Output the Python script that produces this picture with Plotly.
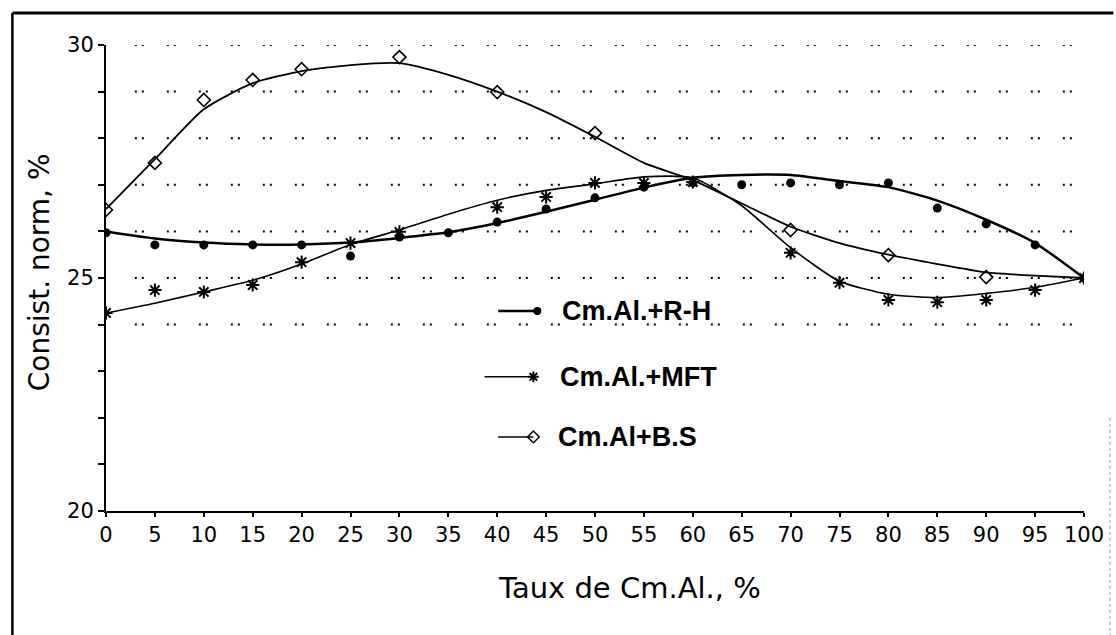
import plotly.graph_objects as go

# ---------------- data ----------------
x_fit = [0, 5, 10, 15, 20, 25, 30, 35, 40, 45, 50, 55, 60, 65, 70, 75, 80, 85, 90, 95, 100]

rh_fit = [26.0, 25.85, 25.76, 25.72, 25.72, 25.76, 25.86, 25.98, 26.18, 26.42, 26.68,
          26.94, 27.15, 27.21, 27.21, 27.08, 26.95, 26.66, 26.25, 25.75, 25.0]
mft_fit = [24.25, 24.46, 24.7, 24.95, 25.3, 25.72, 26.03, 26.37, 26.67, 26.88, 27.02,
           27.17, 27.15, 26.55, 25.65, 24.93, 24.65, 24.58, 24.67, 24.8, 25.0]
bs_fit = [26.48, 27.55, 28.62, 29.18, 29.44, 29.57, 29.61, 29.36, 29.0, 28.56, 28.03,
          27.47, 27.1, 26.6, 26.1, 25.75, 25.5, 25.3, 25.12, 25.05, 25.0]

rh_x = [0, 5, 10, 15, 20, 25, 30, 35, 40, 45, 50, 55, 60, 65, 70, 75, 80, 85, 90, 95, 100]
rh_y = [25.97, 25.71, 25.71, 25.71, 25.71, 25.47, 25.88, 25.97, 26.2, 26.48, 26.72,
        26.95, 27.04, 27.0, 27.04, 27.0, 27.04, 26.5, 26.16, 25.71, 25.0]

mft_x = [0, 5, 10, 15, 20, 25, 30, 40, 45, 50, 55, 60, 70, 75, 80, 85, 90, 95, 100]
mft_y = [24.25, 24.74, 24.7, 24.85, 25.34, 25.75, 25.99, 26.52, 26.74, 27.04, 27.04,
         27.06, 25.54, 24.9, 24.53, 24.48, 24.53, 24.74, 25.0]

bs_x = [0, 5, 10, 15, 20, 30, 40, 50, 70, 80, 90]
bs_y = [26.46, 27.47, 28.82, 29.25, 29.48, 29.74, 28.99, 28.11, 26.03, 25.49, 25.02]

series_names = ["Cm.Al.+R-H", "Cm.Al.+MFT", "Cm.Al+B.S"]
x_ticks = [0, 5, 10, 15, 20, 25, 30, 35, 40, 45, 50, 55, 60, 65, 70, 75, 80, 85, 90, 95, 100]
y_ticks = [20, 25, 30]
grid_y = [24, 25, 26, 27, 28, 29, 30]

x_title = "Taux de Cm.Al., %"
y_title = "Consist. norm, %"

# ---------------- figure ----------------
FONT = "DejaVu Sans, sans-serif"
BOLD = "Liberation Sans, Arial, sans-serif"
fig = go.Figure()

# fitted curves
fig.add_trace(go.Scatter(x=x_fit, y=rh_fit, mode="lines", line=dict(color="black", width=2.5, shape="spline", smoothing=0.6), showlegend=False))
fig.add_trace(go.Scatter(x=x_fit, y=mft_fit, mode="lines", line=dict(color="black", width=1.6, shape="spline", smoothing=0.6), showlegend=False))
fig.add_trace(go.Scatter(x=x_fit, y=bs_fit, mode="lines", line=dict(color="black", width=1.8, shape="spline", smoothing=0.6), showlegend=False))

# markers
fig.add_trace(go.Scatter(x=rh_x, y=rh_y, mode="markers", marker=dict(symbol="circle", size=9, color="black"), showlegend=False))
fig.add_trace(go.Scatter(x=mft_x, y=mft_y, mode="markers", marker=dict(symbol="asterisk-open", size=11, color="black", line=dict(width=2, color="black")), showlegend=False))
fig.add_trace(go.Scatter(x=bs_x, y=bs_y, mode="markers", marker=dict(symbol="diamond-open", size=10, color="black", line=dict(width=1.6, color="black")), showlegend=False))

# custom legend samples (overlay axes in plot-fraction units)
leg_rows = [
    dict(x0=0.401, x1=0.441, y=0.429, sym="circle", size=8, lw=2.5, mlw=0, tx=0.464),
    dict(x0=0.387, x1=0.437, y=0.288, sym="asterisk-open", size=9, lw=1.5, mlw=2, tx=0.462),
    dict(x0=0.401, x1=0.437, y=0.159, sym="diamond-open", size=9, lw=1.5, mlw=1.5, tx=0.460),
]
for name, r in zip(series_names, leg_rows):
    fig.add_trace(go.Scatter(x=[r["x0"], r["x1"]], y=[r["y"], r["y"]], xaxis="x2", yaxis="y2",
                             mode="lines", line=dict(color="black", width=r["lw"]), showlegend=False))
    fig.add_trace(go.Scatter(x=[r["x1"]], y=[r["y"]], xaxis="x2", yaxis="y2", mode="markers",
                             marker=dict(symbol=r["sym"], size=r["size"], color="black",
                                         line=dict(width=r["mlw"], color="black")), showlegend=False))
    fig.add_annotation(x=r["tx"], y=r["y"], xref="x2", yref="y2", text="<b>%s</b>" % name,
                       showarrow=False, xanchor="left", yanchor="middle",
                       font=dict(family=BOLD, size=27, color="black"))

# dotted grid (pairs of dots)
for gy in grid_y:
    fig.add_shape(type="line", xref="x", yref="y", x0=2.95, x1=100, y0=gy, y1=gy,
                  line=dict(color="black", width=2, dash="2px,5px,2px,23px"), layer="below")

# outer frame
fig.add_shape(type="line", xref="paper", yref="paper", x0=-0.0957, x1=-0.0957, y0=1.0687, y1=-0.27,
              line=dict(color="black", width=2.5))
fig.add_shape(type="line", xref="paper", yref="paper", x0=-0.0957, x1=1.03, y0=1.0687, y1=1.0687,
              line=dict(color="black", width=3))
fig.add_shape(type="line", xref="paper", yref="paper", x0=1.0265, x1=1.0265, y0=0.2, y1=-0.27,
              line=dict(color="#999999", width=1, dash="dot"))

# axis titles
fig.add_annotation(x=0.535, y=-0.165, xref="paper", yref="paper", text=x_title, showarrow=False,
                   xanchor="center", yanchor="middle", font=dict(family=FONT, size=29, color="black"))
fig.add_annotation(x=-0.0672, y=0.513, xref="paper", yref="paper", text=y_title, showarrow=False,
                   textangle=-90, xanchor="center", yanchor="middle", font=dict(family=FONT, size=28, color="black"))

fig.update_layout(
    width=1116, height=635,
    margin=dict(l=106, r=28, t=45, b=124),
    paper_bgcolor="white", plot_bgcolor="white",
    showlegend=False,
    xaxis=dict(range=[0, 100], tickvals=x_ticks, ticktext=[str(v) for v in x_ticks],
               showgrid=False, zeroline=False, showline=True, linecolor="black", linewidth=2,
               ticks="outside", ticklen=4, tickwidth=2, tickcolor="black",
               tickfont=dict(family=FONT, size=21, color="black")),
    yaxis=dict(range=[20, 30], tickvals=y_ticks, ticktext=[str(v) for v in y_ticks],
               showgrid=False, zeroline=False, showline=True, linecolor="black", linewidth=2,
               ticks="outside", ticklen=6, tickwidth=2, tickcolor="black",
               minor=dict(dtick=1, ticks="outside", ticklen=6, tickwidth=2, tickcolor="black", showgrid=False),
               tickfont=dict(family=FONT, size=21, color="black")),
    xaxis2=dict(overlaying="x", range=[0, 1], visible=False),
    yaxis2=dict(overlaying="y", range=[0, 1], visible=False),
)

fig.write_html("out.html")
